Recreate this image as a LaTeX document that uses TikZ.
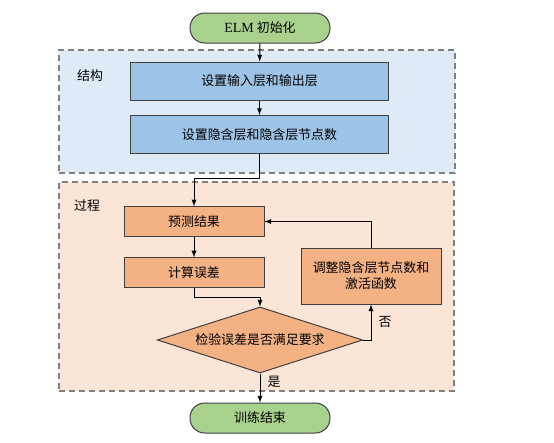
\documentclass[tikz,border=0pt]{standalone}
\usepackage{fontspec}
\setmainfont{Liberation Serif}
\newfontfamily\cjk{Noto Sans CJK SC}
\usetikzlibrary{shapes.geometric}
\definecolor{termgreen}{HTML}{A9D18E}
\definecolor{panelblue}{HTML}{DEEBF7}
\definecolor{boxblue}{HTML}{9DC3E6}
\definecolor{panelorange}{HTML}{FBE5D6}
\definecolor{boxorange}{HTML}{F4B183}
\definecolor{edgegray}{HTML}{404040}
\begin{document}
\begin{tikzpicture}[x=0.75pt,y=-0.75pt,font=\fontsize{9.7}{12}\selectfont\cjk]
                    \tikzstyle{panel}=[draw=gray, dash pattern=on 4.5pt off 3pt, line width=0.9pt]
                    \tikzstyle{term}=[draw=edgegray, fill=termgreen, rounded corners=11pt, minimum width=105pt, minimum height=22.5pt, line width=0.75pt]
                    \tikzstyle{bluebox}=[draw=edgegray, fill=boxblue, minimum width=194pt, minimum height=28.5pt, line width=0.75pt]
                    \tikzstyle{orangebox}=[draw=edgegray, fill=boxorange, minimum width=105pt, minimum height=22pt, line width=0.75pt]
                    \tikzstyle{decide}=[draw=edgegray, fill=boxorange, diamond, aspect=3.1, inner sep=0pt, minimum width=154pt, minimum height=49.5pt, line width=0.75pt]
                    \tikzstyle{flow}=[->, >=latex, line width=0.75pt]
                    \useasboundingbox (0,0) rectangle (554,443);
                    \node[panel, fill=panelblue, minimum width=297pt, minimum height=92.25pt] (struct) at (257,111.5) {};
                    \node[panel, fill=panelorange, minimum width=296.25pt, minimum height=156.75pt] (proc) at (256.5,286.5) {};
                    \node (structlabel) at (90,76) {结构};
                    \node (proclabel) at (87,206) {过程};
                    \node[term] (start) at (260,28) {{\rmfamily\fontsize{10.5}{12}\selectfont ELM} 初始化};
                    \node[bluebox] (io) at (259.5,81) {设置输入层和输出层};
                    \node[bluebox] (hidden) at (259.5,134.5) {设置隐含层和隐含层节点数};
                    \node[orangebox] (pred) at (194,221.5) {预测结果};
                    \node[orangebox] (calc) at (194,272.5) {计算误差};
                    \node[decide] (check) at (260,340) {检验误差是否满足要求};
                    \node[orangebox, minimum height=42pt, align=center] (adjust) at (371,276) {调整隐含层节点数和\\激活函数};
                    \node[term] (finish) at (260,418) {训练结束};
                    \coordinate (turn1) at (194,178);
                    \coordinate (turn2) at (260,297);
                    \draw[flow] (start) -- (io);
                    \draw[flow] (io) -- (hidden);
                    \draw[flow] (hidden.south) |- (turn1) -- (pred.north);
                    \draw[flow] (pred) -- (calc);
                    \draw[flow] (calc.south) |- (turn2) -- (check.north);
                    \draw[flow] (check.east) -| node[pos=0.75, right=2pt] {否} (adjust.south);
                    \draw[flow] (adjust.north) |- (pred.east);
                    \draw[flow] (check.south) -- node[pos=0.3, right=2pt] {是} (finish.north);
                \end{tikzpicture}
\end{document}
